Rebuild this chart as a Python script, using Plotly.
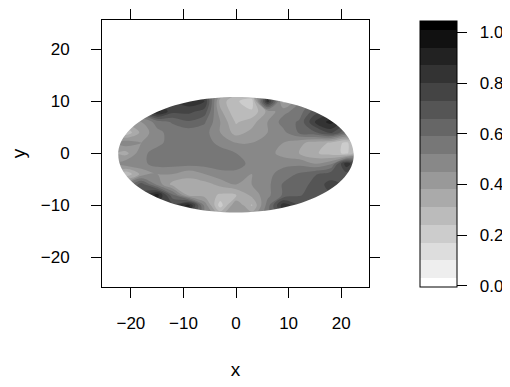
import plotly.graph_objects as go

N = None
# grid coordinates
x_vals = [-24, -21, -18, -15, -12, -9, -6, -3, 0, 3, 6, 9, 12, 15, 18, 21, 24]
y_vals = [-12, -10, -8, -6, -4, -2, 0, 2, 4, 6, 8, 10, 12]

# values (rows follow y_vals, columns follow x_vals)
row_m12 = [N, N, N, N, N, N, N, N, N, N, N, N, N, N, N, N, N]
row_m10 = [N, N, N, N, N, 0.90, 0.50, 0.20, 0.45, 0.30, 0.55, 0.85, N, N, N, N, N]
row_m8 = [N, N, N, 0.90, 0.60, 0.35, 0.35, 0.30, 0.30, 0.40, 0.50, 0.60, 0.65, 0.70, N, N, N]
row_m6 = [N, N, 0.70, 0.50, 0.35, 0.35, 0.35, 0.40, 0.45, 0.45, 0.50, 0.60, 0.60, 0.70, 0.75, N, N]
row_m4 = [N, 0.25, 0.40, 0.45, 0.45, 0.40, 0.45, 0.50, 0.50, 0.45, 0.50, 0.55, 0.60, 0.65, 0.70, 0.70, N]
row_m2 = [N, 0.50, 0.50, 0.55, 0.55, 0.55, 0.55, 0.55, 0.55, 0.50, 0.50, 0.50, 0.50, 0.45, 0.50, 0.85, N]
row_0 = [N, 0.35, 0.50, 0.55, 0.55, 0.55, 0.55, 0.55, 0.52, 0.50, 0.48, 0.42, 0.38, 0.32, 0.28, 0.22, N]
row_2 = [N, 0.50, 0.45, 0.50, 0.55, 0.55, 0.55, 0.50, 0.45, 0.45, 0.50, 0.45, 0.40, 0.35, 0.30, 0.22, N]
row_4 = [N, 0.25, 0.40, 0.50, 0.55, 0.55, 0.55, 0.45, 0.35, 0.40, 0.45, 0.50, 0.60, 0.65, 0.75, 0.60, N]
row_6 = [N, N, 0.45, 0.55, 0.60, 0.65, 0.60, 0.45, 0.30, 0.35, 0.45, 0.55, 0.60, 0.80, 0.90, N, N]
row_8 = [N, N, N, 0.90, 0.75, 0.75, 0.70, 0.40, 0.25, 0.25, 0.40, 0.50, 0.55, 0.70, N, N, N]
row_10 = [N, N, N, N, N, 0.85, 0.80, 0.35, 0.25, 0.20, 0.85, 0.35, N, N, N, N, N]
row_12 = [N, N, N, N, N, N, N, N, N, N, N, N, N, N, N, N, N]

z_vals = [row_m12, row_m10, row_m8, row_m6, row_m4, row_m2, row_0,
          row_2, row_4, row_6, row_8, row_10, row_12]

region_cx, region_cy = 0.0, -0.3
region_a, region_b = 22.4, 11.1

cbar_ticks = [0.0, 0.2, 0.4, 0.6, 0.8, 1.0]
cbar_text = ["\u00a0\u00a0" + t for t in ["0.0", "0.2", "0.4", "0.6", "0.8", "1.0"]]
axis_ticks = [-20, -10, 0, 10, 20]

FONT = "Liberation Sans, Arial, sans-serif"

fig = go.Figure()
fig.add_trace(go.Contour(
    x=x_vals, y=y_vals, z=z_vals,
    connectgaps=True,
    colorscale=[[0, "rgb(255,255,255)"], [1, "rgb(0,0,0)"]],
    contours=dict(start=0.03, end=1.01, size=0.07, coloring="fill", showlines=False),
    line=dict(width=0),
    colorbar=dict(
        x=1.191, xanchor="left", xpad=0, ypad=0,
        y=0.498, yanchor="middle",
        lenmode="pixels", len=266, thickness=37,
        outlinewidth=1, outlinecolor="black",
        tickmode="array", tickvals=cbar_ticks, ticktext=cbar_text,
        ticks="outside", ticklen=10, tickcolor="black", tickwidth=1,
        tickfont=dict(family=FONT, size=17, color="black"),
    ),
    hoverinfo="x+y+z",
))

# white mask outside the elliptical region (rectangle minus ellipse, even-odd fill)
k = 0.5523
cx, cy, a, b = region_cx, region_cy, region_a, region_b
ellipse = (
    f"M {cx + a},{cy} "
    f"C {cx + a},{cy + k * b} {cx + k * a},{cy + b} {cx},{cy + b} "
    f"C {cx - k * a},{cy + b} {cx - a},{cy + k * b} {cx - a},{cy} "
    f"C {cx - a},{cy - k * b} {cx - k * a},{cy - b} {cx},{cy - b} "
    f"C {cx + k * a},{cy - b} {cx + a},{cy - k * b} {cx + a},{cy} Z"
)
rect = "M -25,-13 L 25,-13 L 25,13 L -25,13 Z"
fig.add_shape(type="path", xref="x", yref="y", path=rect + " " + ellipse,
              fillcolor="white", fillrule="evenodd", line=dict(width=0), layer="above")

axis_common = dict(
    showgrid=False, zeroline=False,
    showline=True, linecolor="black", linewidth=1,
    mirror="allticks", ticks="outside", ticklen=10, tickcolor="black",
    tickmode="array", tickvals=axis_ticks,
    tickfont=dict(family=FONT, size=17, color="black"),
)

# page body has an 8px margin, so the figure is sized to the visible area
fig.update_layout(
    width=502, height=379,
    margin=dict(l=94, r=141, t=12, b=100, autoexpand=False),
    paper_bgcolor="white", plot_bgcolor="white",
    xaxis=dict(range=[-25.5, 25.3], ticklabelstandoff=11,
               title=dict(text="x", font=dict(family=FONT, size=19, color="black"), standoff=30),
               **axis_common),
    yaxis=dict(range=[-25.7, 25.6], ticklabelstandoff=18,
               title=dict(text="y", font=dict(family=FONT, size=19, color="black"), standoff=28),
               **axis_common),
    showlegend=False,
)

fig.write_html("out.html")
